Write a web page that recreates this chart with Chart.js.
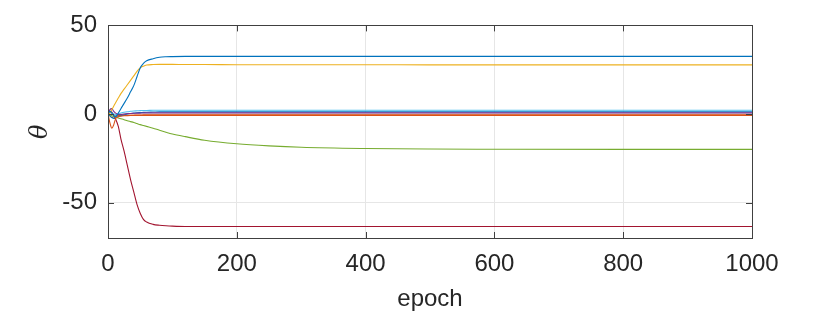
<!DOCTYPE html>
<html>
<head>
<meta charset="utf-8">
<script src="https://cdn.jsdelivr.net/npm/chart.js@4/dist/chart.umd.min.js"></script>
<style>
  html, body { margin: 0; padding: 0; background: #fff; }
  #wrap { width: 830px; height: 312px; }
</style>
</head>
<body>
<div id="wrap"><canvas id="thetaChart" width="830" height="312"></canvas></div>
<script>
var epochs = [0, 3, 6, 9, 12, 16, 20, 25, 30, 35, 40, 45, 50, 55, 60, 70, 80, 90, 100, 120, 150, 200, 250, 300, 400, 500, 600, 800, 1000];

var theta1 = [0, 1.5, 0.5, -1, -1.5, 0.5, 3, 6, 9, 12.5, 16, 21, 26, 28.5, 30, 31.2, 32, 32.3, 32.4, 32.5, 32.5, 32.5, 32.5, 32.5, 32.5, 32.5, 32.5, 32.5, 32.5];
var theta2 = [0, -5, -8, -6, -2.5, -1.5, -1.2, -1, -0.9, -0.8, -0.7, -0.6, -0.6, -0.5, -0.5, -0.5, -0.5, -0.5, -0.5, -0.5, -0.5, -0.5, -0.5, -0.5, -0.5, -0.5, -0.5, -0.5, -0.5];
var theta3 = [0, 0.5, 2.5, 4.5, 6.5, 9, 11.5, 14, 16.5, 19, 21.5, 24, 26, 27, 27.6, 27.9, 28, 28, 28, 27.9, 27.9, 27.8, 27.8, 27.8, 27.8, 27.7, 27.7, 27.7, 27.7];
var theta4 = [0, 2.5, 3, 1.5, 0.5, -0.3, -0.3, 0, 0.2, 0.3, 0.4, 0.5, 0.5, 0.6, 0.6, 0.6, 0.6, 0.6, 0.6, 0.6, 0.6, 0.6, 0.6, 0.6, 0.6, 0.6, 0.6, 0.6, 0.6];
var theta5 = [0, -0.5, -1, -1.4, -1.8, -2.3, -2.7, -3.2, -3.8, -4.3, -4.8, -5.4, -6, -6.5, -7, -8, -9.2, -10.3, -11.3, -12.8, -14.8, -16.8, -18, -18.8, -19.5, -19.8, -19.9, -20, -20];
var theta6 = [0, 1, 0.5, 0, -0.5, 0, 0.5, 1, 1.3, 1.5, 1.7, 1.8, 1.9, 2, 2, 2.1, 2.1, 2.1, 2.1, 2.1, 2.1, 2.1, 2.1, 2.1, 2.1, 2.1, 2.1, 2.1, 2.1];
var theta7 = [0, 1.5, 1, -1, -3, -7, -14, -21, -29, -37, -44, -51, -56, -59.5, -61, -62.3, -62.8, -63.1, -63.3, -63.5, -63.5, -63.5, -63.5, -63.5, -63.5, -63.5, -63.5, -63.5, -63.5];
var theta8 = [0, -1, -2, -2.5, -2, -1.5, -1, -0.5, 0, 0.3, 0.5, 0.7, 0.8, 0.9, 1, 1.1, 1.2, 1.2, 1.2, 1.2, 1.2, 1.2, 1.2, 1.2, 1.2, 1.2, 1.2, 1.2, 1.2];
var theta9 = [0, -1, -2, -1.5, -1, -0.8, -0.8, -0.8, -0.8, -0.8, -0.8, -0.8, -0.8, -0.8, -0.8, -0.8, -0.8, -0.8, -0.8, -0.8, -0.8, -0.8, -0.8, -0.8, -0.8, -0.8, -0.8, -0.8, -0.8];

var xTicks = [0, 200, 400, 600, 800, 1000];
var yTicks = [-50, 0, 50];

var series = [theta1, theta2, theta3, theta4, theta5, theta6, theta7, theta8, theta9];
var colors = ['#0072BD', '#D95319', '#EDB120', '#7E2F8E', '#77AC30', '#4DBEEE', '#A2142F', '#0072BD', '#D95319'];

var datasets = series.map(function (vals, i) {
  return {
    data: vals.map(function (v, j) { return { x: epochs[j], y: v }; }),
    borderColor: colors[i],
    borderWidth: 1.1,
    pointRadius: 0,
    fill: false,
    cubicInterpolationMode: 'monotone'
  };
});

// box + inward tick marks like matlab axes
var boxTicks = {
  id: 'boxTicks',
  afterDraw: function (chart) {
    var ctx = chart.ctx, a = chart.chartArea;
    var xs = chart.scales.x, ys = chart.scales.y;
    var len = 6;
    ctx.save();
    ctx.strokeStyle = '#404040';
    ctx.lineWidth = 1;
    ctx.beginPath();
    xTicks.forEach(function (t) {
      var px = Math.round(xs.getPixelForValue(t)) + 0.5;
      ctx.moveTo(px, a.bottom); ctx.lineTo(px, a.bottom - len);
      ctx.moveTo(px, a.top); ctx.lineTo(px, a.top + len);
    });
    yTicks.forEach(function (t) {
      var py = Math.round(ys.getPixelForValue(t)) + 0.5;
      ctx.moveTo(a.left, py); ctx.lineTo(a.left + len, py);
      ctx.moveTo(a.right, py); ctx.lineTo(a.right - len, py);
    });
    ctx.stroke();
    ctx.strokeRect(Math.round(a.left) + 0.5, Math.round(a.top) + 0.5, Math.round(a.right - a.left), Math.round(a.bottom - a.top));
    ctx.restore();
  }
};

var tickFont = { family: 'Liberation Sans, Arial, sans-serif', size: 24 };

new Chart(document.getElementById('thetaChart'), {
  type: 'line',
  data: { datasets: datasets },
  plugins: [boxTicks],
  options: {
    responsive: false,
    animation: false,
    layout: { padding: { left: 0, right: 78, top: 24, bottom: 0 } },
    plugins: { legend: { display: false }, tooltip: { enabled: false } },
    scales: {
      x: {
        type: 'linear',
        min: 0,
        max: 1000,
        afterBuildTicks: function (s) { s.ticks = xTicks.map(function (v) { return { value: v }; }); },
        afterFit: function (s) { s.height = 74; },
        grid: { color: '#e6e6e6', drawTicks: false },
        border: { display: false },
        ticks: { font: tickFont, color: '#262626', padding: 12, maxRotation: 0, callback: function (v) { return String(v); } },
        title: { display: true, text: 'epoch', font: { family: 'Liberation Sans, Arial, sans-serif', size: 24, lineHeight: 1 }, color: '#262626', padding: { top: 0, bottom: 1 } }
      },
      y: {
        min: -70,
        max: 50,
        afterBuildTicks: function (s) { s.ticks = yTicks.map(function (v) { return { value: v }; }); },
        afterFit: function (s) { s.width = 108; },
        grid: { color: '#e6e6e6', drawTicks: false },
        border: { display: false },
        ticks: { font: tickFont, color: '#262626', padding: 11, callback: function (v) { return String(v); } },
        title: { display: true, text: 'θ', font: { family: 'DejaVu Serif, serif', size: 24, style: 'italic' }, color: '#262626', padding: { top: 26, bottom: 0 } }
      }
    }
  }
});
</script>
</body>
</html>
